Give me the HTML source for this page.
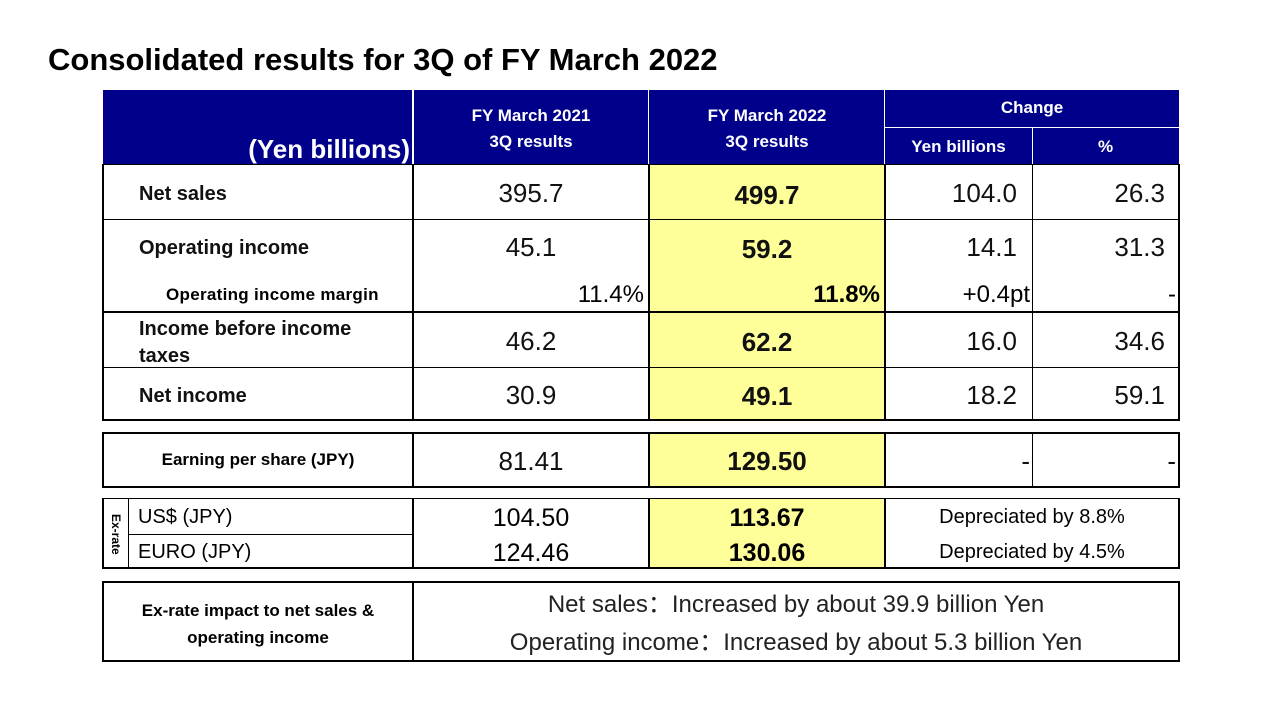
<!DOCTYPE html>
<html><head><meta charset="utf-8"><style>
body{margin:0;width:1281px;height:720px;background:#fff;position:relative;font-family:"Liberation Sans",Arial,sans-serif;overflow:hidden}
div{position:absolute;box-sizing:border-box}
.h{background:#00008b;color:#fff;font-weight:bold;font-size:17px;text-align:center}
.y{background:#ffff99}
.t{white-space:nowrap}
.v{font-size:26px;color:#111}
.b{font-weight:bold}
.l{font-size:20px;font-weight:bold;color:#111}
.line{background:#000}
</style></head><body>
<div class="t b" style="left:48px;top:40px;font-size:31px;line-height:40px">Consolidated results for 3Q of FY March 2022</div>

<!-- header -->
<div class="h" style="left:103px;top:90px;width:1076px;height:75px"></div>
<div class="t b" style="left:103px;top:132px;width:307px;text-align:right;color:#fff;font-size:26px;line-height:34px">(Yen billions)</div>
<div class="t h" style="left:413px;top:103px;width:236px;line-height:26px;background:none">FY March 2021<br>3Q results</div>
<div class="t h" style="left:649px;top:103px;width:236px;line-height:26px;background:none">FY March 2022<br>3Q results</div>
<div class="t h" style="left:885px;top:95px;width:294px;line-height:26px;background:none">Change</div>
<div class="t h" style="left:885px;top:133px;width:147px;line-height:28px;background:none">Yen billions</div>
<div class="t h" style="left:1032px;top:133px;width:147px;line-height:28px;background:none">%</div>
<div style="left:885px;top:127px;width:294px;height:1px;background:#fff"></div>
<div style="left:412px;top:90px;width:2px;height:75px;background:#fff"></div>
<div style="left:648px;top:90px;width:1px;height:75px;background:#fff"></div>
<div style="left:884px;top:90px;width:1px;height:75px;background:#fff"></div>
<div style="left:1032px;top:127px;width:1px;height:38px;background:#fff"></div>

<!-- main table -->
<div class="y" style="left:649px;top:165px;width:236px;height:255px"></div>
<div style="left:102px;top:164px;width:1078px;height:257px;border:2px solid #000;border-top:1px solid #000"></div>
<div class="line" style="left:412px;top:165px;width:2px;height:255px"></div>
<div class="line" style="left:648px;top:165px;width:2px;height:255px"></div>
<div class="line" style="left:884px;top:165px;width:2px;height:255px"></div>
<div class="line" style="left:1032px;top:165px;width:1px;height:255px"></div>
<div class="line" style="left:103px;top:219px;width:1076px;height:1px"></div>
<div class="line" style="left:103px;top:311px;width:1076px;height:2px"></div>
<div class="line" style="left:103px;top:367px;width:1076px;height:1px"></div>

<div class="t l" style="left:139px;top:180px;line-height:28px">Net sales</div>
<div class="t v" style="left:413px;top:178px;width:236px;text-align:center;line-height:30px">395.7</div>
<div class="t v b" style="left:649px;top:180px;width:236px;text-align:center;line-height:30px">499.7</div>
<div class="t v" style="left:885px;top:178px;width:132px;text-align:right;line-height:30px">104.0</div>
<div class="t v" style="left:1032px;top:178px;width:133px;text-align:right;line-height:30px">26.3</div>

<div class="t l" style="left:139px;top:234px;line-height:28px">Operating income</div>
<div class="t v" style="left:413px;top:232px;width:236px;text-align:center;line-height:30px">45.1</div>
<div class="t v b" style="left:649px;top:234px;width:236px;text-align:center;line-height:30px">59.2</div>
<div class="t v" style="left:885px;top:232px;width:132px;text-align:right;line-height:30px">14.1</div>
<div class="t v" style="left:1032px;top:232px;width:133px;text-align:right;line-height:30px">31.3</div>

<div class="t b" style="left:166px;top:284px;font-size:17px;line-height:22px;letter-spacing:0.3px">Operating income margin</div>
<div class="t" style="left:413px;top:281px;width:231px;text-align:right;font-size:24px;line-height:28px">11.4%</div>
<div class="t b" style="left:649px;top:281px;width:231px;text-align:right;font-size:24px;line-height:28px">11.8%</div>
<div class="t" style="left:885px;top:281px;width:145px;text-align:right;font-size:24px;line-height:28px">+0.4pt</div>
<div class="t" style="left:1032px;top:281px;width:144px;text-align:right;font-size:24px;line-height:28px">-</div>

<div class="t l" style="left:139px;top:316px;line-height:27px">Income before income<br>taxes</div>
<div class="t v" style="left:413px;top:326px;width:236px;text-align:center;line-height:30px">46.2</div>
<div class="t v b" style="left:649px;top:327px;width:236px;text-align:center;line-height:30px">62.2</div>
<div class="t v" style="left:885px;top:326px;width:132px;text-align:right;line-height:30px">16.0</div>
<div class="t v" style="left:1032px;top:326px;width:133px;text-align:right;line-height:30px">34.6</div>

<div class="t l" style="left:139px;top:382px;line-height:28px">Net income</div>
<div class="t v" style="left:413px;top:380px;width:236px;text-align:center;line-height:30px">30.9</div>
<div class="t v b" style="left:649px;top:381px;width:236px;text-align:center;line-height:30px">49.1</div>
<div class="t v" style="left:885px;top:380px;width:132px;text-align:right;line-height:30px">18.2</div>
<div class="t v" style="left:1032px;top:380px;width:133px;text-align:right;line-height:30px">59.1</div>

<!-- EPS -->
<div class="y" style="left:649px;top:433px;width:236px;height:54px"></div>
<div style="left:102px;top:432px;width:1078px;height:56px;border:2px solid #000"></div>
<div class="line" style="left:412px;top:433px;width:2px;height:54px"></div>
<div class="line" style="left:648px;top:433px;width:2px;height:54px"></div>
<div class="line" style="left:884px;top:433px;width:2px;height:54px"></div>
<div class="line" style="left:1032px;top:433px;width:1px;height:54px"></div>
<div class="t b" style="left:103px;top:449px;width:310px;text-align:center;font-size:17px;line-height:22px">Earning per share (JPY)</div>
<div class="t v" style="left:413px;top:446px;width:236px;text-align:center;line-height:30px">81.41</div>
<div class="t v b" style="left:649px;top:446px;width:236px;text-align:center;line-height:30px">129.50</div>
<div class="t v" style="left:885px;top:446px;width:145px;text-align:right;line-height:30px">-</div>
<div class="t v" style="left:1032px;top:446px;width:144px;text-align:right;line-height:30px">-</div>

<!-- Ex-rate -->
<div class="y" style="left:649px;top:499px;width:236px;height:69px"></div>
<div style="left:102px;top:498px;width:1078px;height:71px;border:2px solid #000;border-width:1px 2px 2px 2px"></div>
<div class="line" style="left:128px;top:499px;width:1px;height:69px"></div>
<div class="line" style="left:412px;top:499px;width:2px;height:69px"></div>
<div class="line" style="left:648px;top:499px;width:2px;height:69px"></div>
<div class="line" style="left:884px;top:499px;width:2px;height:69px"></div>
<div class="line" style="left:128px;top:534px;width:285px;height:1px"></div>
<div class="t b" style="left:96px;top:527px;width:40px;text-align:center;font-size:12px;line-height:14px;transform:rotate(90deg)">Ex-rate</div>
<div class="t" style="left:138px;top:505px;font-size:20px;line-height:24px">US$ (JPY)</div>
<div class="t" style="left:138px;top:540px;font-size:20px;line-height:24px">EURO (JPY)</div>
<div class="t" style="left:413px;top:503px;width:236px;text-align:center;font-size:25px;line-height:30px">104.50</div>
<div class="t" style="left:413px;top:538px;width:236px;text-align:center;font-size:25px;line-height:30px">124.46</div>
<div class="t b" style="left:649px;top:503px;width:236px;text-align:center;font-size:25px;line-height:30px">113.67</div>
<div class="t b" style="left:649px;top:538px;width:236px;text-align:center;font-size:25px;line-height:30px">130.06</div>
<div class="t" style="left:885px;top:505px;width:294px;text-align:center;font-size:20px;line-height:24px">Depreciated by 8.8%</div>
<div class="t" style="left:885px;top:540px;width:294px;text-align:center;font-size:20px;line-height:24px">Depreciated by 4.5%</div>

<!-- Impact -->
<div style="left:102px;top:581px;width:1078px;height:81px;border:2px solid #000"></div>
<div class="line" style="left:412px;top:582px;width:2px;height:79px"></div>
<div class="t b" style="left:103px;top:597px;width:310px;text-align:center;font-size:17px;line-height:27px">Ex-rate impact to net sales &amp;<br>operating income</div>
<div class="t" style="left:413px;top:590px;width:766px;text-align:center;font-size:24px;line-height:30px;color:#222">Net sales：Increased by about 39.9 billion Yen</div>
<div class="t" style="left:413px;top:628px;width:766px;text-align:center;font-size:24px;line-height:30px;color:#222">Operating income：Increased by about 5.3 billion Yen</div>
</body></html>
